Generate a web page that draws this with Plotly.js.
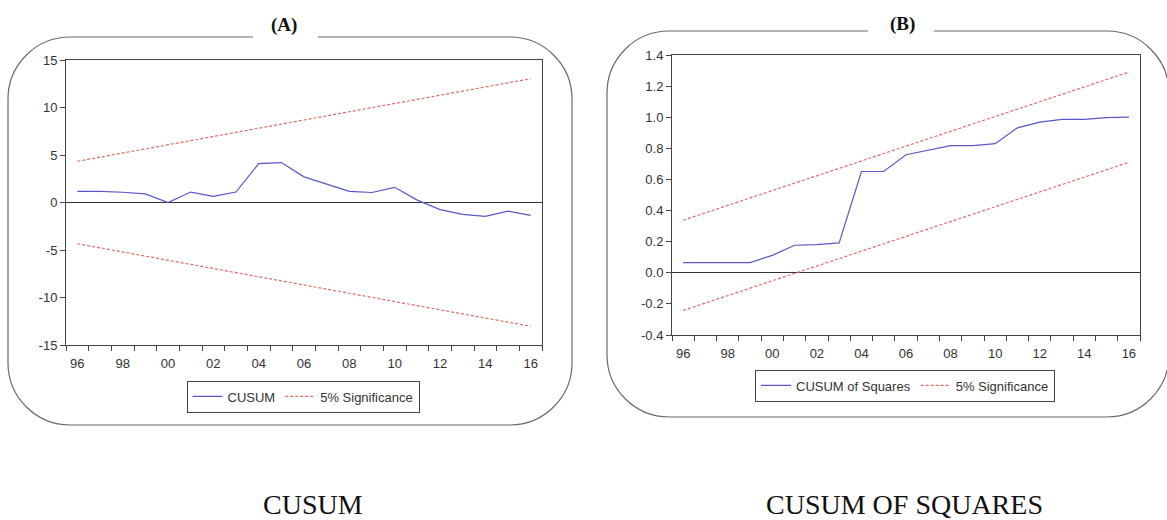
<!DOCTYPE html>
<html><head><meta charset="utf-8">
<script src="https://cdn.plot.ly/plotly-3.0.1.min.js"></script>
<style>html,body{margin:0;padding:0;background:#fff}#chart{width:1167px;height:520px}</style>
</head><body><div id="chart"></div>
<script>
// ---- data ----
const years = [1996,1997,1998,1999,2000,2001,2002,2003,2004,2005,2006,2007,2008,2009,2010,2011,2012,2013,2014,2015,2016];
const cusum = [1.17,1.17,1.08,0.9,0.0,1.1,0.65,1.1,4.1,4.2,2.7,1.95,1.17,1.05,1.6,0.25,-0.75,-1.25,-1.45,-0.9,-1.35];
const cusumSq = [0.065,0.065,0.065,0.065,0.112,0.177,0.181,0.192,0.651,0.651,0.759,0.787,0.817,0.817,0.83,0.932,0.968,0.986,0.986,0.997,1.0];
const boundYears = [1996, 2016];
const cusumUpper = [4.34, 13.03];
const cusumLower = [-4.34, -13.03];
const sqUpper = [0.338, 1.290];
const sqLower = [-0.242, 0.710];
const xTickVals = [1996,1998,2000,2002,2004,2006,2008,2010,2012,2014,2016];
const xTickText = ['96','98','00','02','04','06','08','10','12','14','16'];
const yTickValsA = [-15,-10,-5,0,5,10,15];
const yTickTextA = ['-15','-10','-5','0','5','10','15'];
const yTickValsB = [-0.4,-0.2,0.0,0.2,0.4,0.6,0.8,1.0,1.2,1.4];
const yTickTextB = ['-0.4','-0.2','0.0','0.2','0.4','0.6','0.8','1.0','1.2','1.4'];
const panelTitles = ['(A)', '(B)'];
const captions = ['CUSUM', 'CUSUM OF SQUARES'];
const seriesNames = ['CUSUM', 'CUSUM of Squares', '5% Significance'];

// ---- layout helpers ----
const W = 1167, H = 520;
const px = x => x / W;
const py = y => 1 - y / H;
function boxPath(l, t, r, b, rad, g1, g2) {
  const k = 0.55 * rad;
  const P = (x, y) => px(x).toFixed(5) + ',' + py(y).toFixed(5);
  return 'M ' + P(g2, t) + ' L ' + P(r - rad, t) +
    ' C ' + P(r - rad + k, t) + ' ' + P(r, t + rad - k) + ' ' + P(r, t + rad) +
    ' L ' + P(r, b - rad) +
    ' C ' + P(r, b - rad + k) + ' ' + P(r - rad + k, b) + ' ' + P(r - rad, b) +
    ' L ' + P(l + rad, b) +
    ' C ' + P(l + rad - k, b) + ' ' + P(l, b - rad + k) + ' ' + P(l, b - rad) +
    ' L ' + P(l, t + rad) +
    ' C ' + P(l, t + rad - k) + ' ' + P(l + rad - k, t) + ' ' + P(l + rad, t) +
    ' L ' + P(g1, t);
}

const blue = '#5757c9', red = '#e06a6a', axc = '#444';
const traces = [
  {x: years, y: cusum, type: 'scatter', mode: 'lines', name: seriesNames[0],
   line: {color: blue, width: 1.2}, xaxis: 'x', yaxis: 'y', legend: 'legend'},
  {x: boundYears, y: cusumUpper, type: 'scatter', mode: 'lines', name: seriesNames[2],
   line: {color: red, width: 1.2, dash: '3px,2px'}, xaxis: 'x', yaxis: 'y', legend: 'legend'},
  {x: boundYears, y: cusumLower, type: 'scatter', mode: 'lines', name: seriesNames[2], showlegend: false,
   line: {color: red, width: 1.2, dash: '3px,2px'}, xaxis: 'x', yaxis: 'y'},
  {x: years, y: cusumSq, type: 'scatter', mode: 'lines', name: seriesNames[1],
   line: {color: blue, width: 1.2}, xaxis: 'x2', yaxis: 'y2', legend: 'legend2'},
  {x: boundYears, y: sqUpper, type: 'scatter', mode: 'lines', name: seriesNames[2],
   line: {color: red, width: 1.2, dash: '3px,2px'}, xaxis: 'x2', yaxis: 'y2', legend: 'legend2'},
  {x: boundYears, y: sqLower, type: 'scatter', mode: 'lines', name: seriesNames[2], showlegend: false,
   line: {color: red, width: 1.2, dash: '3px,2px'}, xaxis: 'x2', yaxis: 'y2', legend: 'legend2'}
];

const tickFont = {family: 'Liberation Sans, Arial, sans-serif', size: 13, color: '#333'};
function xAxis(domain, anchor) {
  return {domain: domain, anchor: anchor, range: [1995.5, 2016.5], showgrid: false, zeroline: false,
    showline: true, mirror: true, linecolor: axc, linewidth: 1,
    tickmode: 'array', tickvals: xTickVals, ticktext: xTickText,
    ticks: 'outside', ticklen: 6, tickcolor: 'rgba(0,0,0,0)', tickfont: tickFont,
    minor: {tickmode: 'linear', tick0: 1995.5, dtick: 1, ticks: 'outside', ticklen: 5,
            tickcolor: axc, tickwidth: 1, showgrid: false},
    fixedrange: true};
}
function yAxis(domain, anchor, range, vals, text) {
  return {domain: domain, anchor: anchor, range: range, tickmode: 'array', tickvals: vals, ticktext: text,
    showgrid: false, zeroline: true, zerolinecolor: '#333', zerolinewidth: 1,
    showline: true, mirror: true, linecolor: axc, linewidth: 1,
    ticks: 'outside', ticklen: 5, tickcolor: axc, tickfont: tickFont, fixedrange: true};
}
const legendBase = {orientation: 'h', bgcolor: '#fff', bordercolor: axc, borderwidth: 1,
  font: {family: 'Liberation Sans, Arial, sans-serif', size: 13, color: '#333'},
  xanchor: 'center', yanchor: 'middle', itemwidth: 30, tracegroupgap: 0};

const layout = {
  width: W, height: H, margin: {l: 0, r: 0, t: 0, b: 0},
  paper_bgcolor: '#fff', plot_bgcolor: '#fff', showlegend: true,
  font: {family: 'Liberation Sans, Arial, sans-serif'},
  xaxis: xAxis([px(66), px(542)], 'y'),
  yaxis: yAxis([py(345), py(60)], 'x', [-15, 15], yTickValsA, yTickTextA),
  xaxis2: xAxis([px(672), px(1140)], 'y2'),
  yaxis2: yAxis([py(335), py(55)], 'x2', [-0.4, 1.4], yTickValsB, yTickTextB),
  legend: Object.assign({}, legendBase, {x: px(303), y: py(396.5)}),
  legend2: Object.assign({}, legendBase, {x: px(905), y: py(385.5)}),
  shapes: [
    {type: 'path', xref: 'paper', yref: 'paper', path: boxPath(8, 37, 572, 425, 62, 253, 318),
     line: {color: '#6a6a6a', width: 1.2}},
    {type: 'path', xref: 'paper', yref: 'paper', path: boxPath(607, 31, 1169, 417, 62, 868, 934),
     line: {color: '#6a6a6a', width: 1.2}}
  ],
  annotations: [
    {text: '<b>' + panelTitles[0] + '</b>', x: px(284), y: py(25), xref: 'paper', yref: 'paper',
     showarrow: false, xanchor: 'center', yanchor: 'middle',
     font: {family: 'Liberation Serif, Times New Roman, serif', size: 19, color: '#111'}},
    {text: '<b>' + panelTitles[1] + '</b>', x: px(902), y: py(24), xref: 'paper', yref: 'paper',
     showarrow: false, xanchor: 'center', yanchor: 'middle',
     font: {family: 'Liberation Serif, Times New Roman, serif', size: 19, color: '#111'}},
    {text: captions[0], x: px(313), y: py(504), xref: 'paper', yref: 'paper',
     showarrow: false, xanchor: 'center', yanchor: 'middle',
     font: {family: 'Liberation Serif, Times New Roman, serif', size: 28, color: '#111'}},
    {text: captions[1], x: px(904), y: py(504), xref: 'paper', yref: 'paper',
     showarrow: false, xanchor: 'center', yanchor: 'middle',
     font: {family: 'Liberation Serif, Times New Roman, serif', size: 28, color: '#111'}}
  ]
};

Plotly.newPlot('chart', traces, layout, {displayModeBar: false, staticPlot: true});
</script>
</body></html>
